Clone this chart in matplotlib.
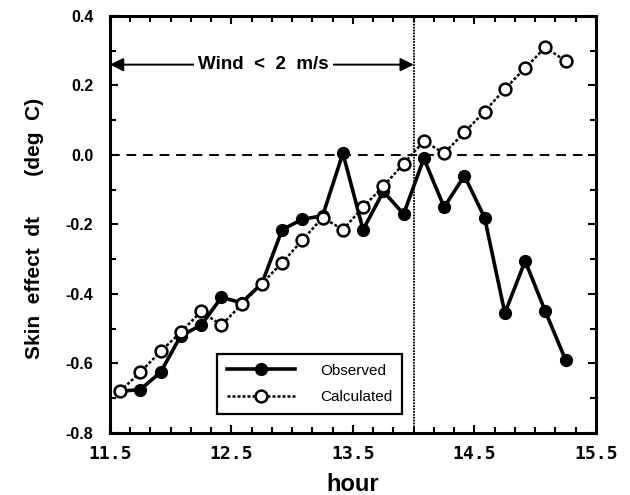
import numpy as np
import matplotlib
matplotlib.use('Agg')
import matplotlib.pyplot as plt
from matplotlib.ticker import MultipleLocator

# 10-minute samples, decimal hours
hours = [11.583, 11.75, 11.917, 12.083, 12.25, 12.417, 12.583, 12.75,
         12.917, 13.083, 13.25, 13.417, 13.583, 13.75, 13.917, 14.083,
         14.25, 14.417, 14.583, 14.75, 14.917, 15.083, 15.25]
observed = [-0.68, -0.675, -0.625, -0.52, -0.49, -0.41, -0.425, -0.37,
            -0.215, -0.185, -0.175, 0.005, -0.215, -0.105, -0.17, -0.01,
            -0.15, -0.06, -0.18, -0.455, -0.305, -0.45, -0.59]
calculated = [-0.68, -0.625, -0.565, -0.51, -0.45, -0.49, -0.43, -0.37,
              -0.31, -0.245, -0.18, -0.215, -0.15, -0.09, -0.025, 0.04,
              0.005, 0.065, 0.125, 0.19, 0.25, 0.31, 0.27]
xticks = [11.5, 12.5, 13.5, 14.5, 15.5]
yticks = [0.4, 0.2, 0.0, -0.2, -0.4, -0.6, -0.8]
wind_end = 14.0
wind_level = 0.26

plt.rcParams['font.family'] = ['Liberation Sans', 'DejaVu Sans']

fig = plt.figure(figsize=(6.3, 4.95), dpi=100)
ax = fig.add_axes([0.1746, 0.1253, 0.7714, 0.8424])

ax.plot(hours, observed, color='black', lw=2.6, marker='o', ms=8.5,
        mfc='black', mec='black', label='Observed', zorder=3)
ax.plot(hours, calculated, color='black', lw=1.8, ls=(0, (1.2, 0.8)),
        marker='o', ms=8.5, mfc='white', mec='black', mew=1.8,
        label='Calculated', zorder=4)

ax.axhline(0.0, color='black', lw=1.4, ls=(0, (5, 3.5)), zorder=1)
ax.axvline(wind_end, color='black', lw=1.3, ls=(0, (1, 0.6)), zorder=1)

ax.annotate('', xy=(11.5, wind_level), xytext=(wind_end, wind_level),
            arrowprops=dict(arrowstyle='<|-|>', color='black', lw=1.4,
                            mutation_scale=20, shrinkA=0, shrinkB=0))
ax.text(12.76, wind_level, 'Wind  <  2  m/s', ha='center', va='center',
        fontsize=13.5, fontweight='bold',
        bbox=dict(facecolor='white', edgecolor='none', pad=3))

ax.set_xlim(11.5, 15.5)
ax.set_ylim(-0.8, 0.4)
ax.set_xticks(xticks)
ax.set_xticklabels([f'{t:.1f}' for t in xticks])
ax.set_yticks(yticks)
ax.set_yticklabels([f'{t:.1f}' for t in yticks])
ax.xaxis.set_minor_locator(MultipleLocator(1 / 6))
ax.yaxis.set_minor_locator(MultipleLocator(0.1))

ax.tick_params(which='both', direction='in', top=True, right=True,
               width=1.5, color='black')
ax.tick_params(which='major', length=6)
ax.tick_params(which='minor', length=4)
ax.tick_params(axis='x', pad=9)
ax.tick_params(axis='y', pad=12, labelsize=11.5)
# wide, evenly spaced digits on the hour axis
for lab in ax.get_xticklabels():
    lab.set_family('DejaVu Sans Mono')
    lab.set_fontweight('bold')
    lab.set_fontsize(13)
for lab in ax.get_yticklabels():
    lab.set_fontweight('bold')

for sp in ax.spines.values():
    sp.set_linewidth(2.2)

ax.set_xlabel('hour', fontsize=17, fontweight='bold', labelpad=7)
ax.set_ylabel('Skin  effect  dt       (deg  C)', fontsize=15,
              fontweight='bold')
ax.yaxis.set_label_coords(-0.135, 0.49)

leg = ax.legend(loc='lower left', bbox_to_anchor=(0.2195, 0.046),
                fontsize=11, handlelength=4.5, borderpad=0.65,
                labelspacing=0.8, fancybox=False, framealpha=1,
                edgecolor='black', handletextpad=1.6, borderaxespad=0)
leg.get_frame().set_linewidth(1.6)

fig.savefig('out.png', dpi=100)
